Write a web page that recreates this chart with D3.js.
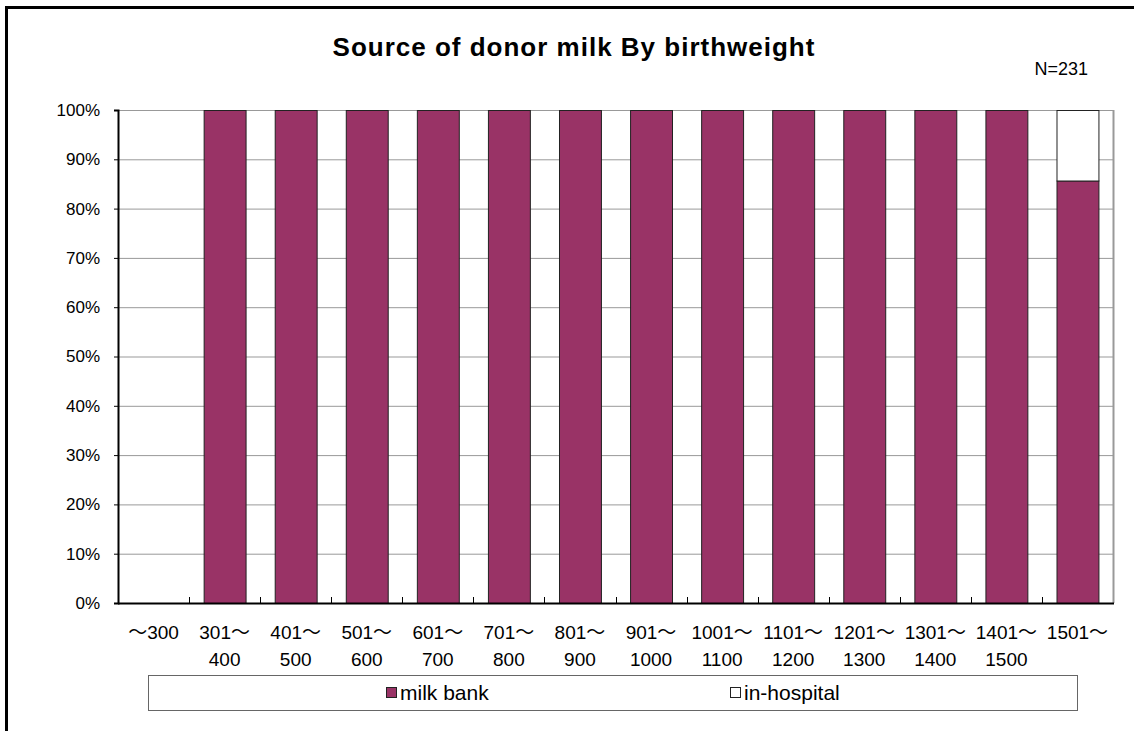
<!DOCTYPE html>
<html><head><meta charset="utf-8">
<script src="https://cdn.jsdelivr.net/npm/d3@7"></script>
<style>body{margin:0;background:#fff;}svg{display:block;}</style>
</head><body>
<svg id="c" width="1134" height="731"></svg>
<script>
const categoriesLine1 = ["～300","301～","401～","501～","601～","701～","801～","901～","1001～","1101～","1201～","1301～","1401～","1501～"];
const categoriesLine2 = ["","400","500","600","700","800","900","1000","1100","1200","1300","1400","1500",""];
const milkBank   = [0,100,100,100,100,100,100,100,100,100,100,100,100,85.7];
const inHospital = [0,0,0,0,0,0,0,0,0,0,0,0,0,14.3];
const yTicks = [0,10,20,30,40,50,60,70,80,90,100];
const seriesNames = ["milk bank","in-hospital"];
const seriesColors = ["#993366","#ffffff"];
const titleText = "Source of donor milk By birthweight";
const noteText = "N=231";

const font = "'Liberation Sans', 'Noto Sans CJK JP', Arial, sans-serif";
const svg = d3.select("#c");
// outer border
svg.append("rect").attr("x",6.5).attr("y",7.5).attr("width",1140).attr("height",740)
  .attr("fill","none").attr("stroke","#000").attr("stroke-width",3);

const L=118,R=1113,T=110,B=603;
const x = d3.scaleBand().domain(categoriesLine1.map((d,i)=>i)).range([L,R]).paddingInner(0.41).paddingOuter(0.205);
const xb = d3.scaleBand().domain(categoriesLine1.map((d,i)=>i)).range([L,R]);
const y = d3.scaleLinear().domain([0,100]).range([B,T]);

// gridlines
svg.append("g").selectAll("line").data(yTicks.filter(t=>t>0)).join("line")
  .attr("x1",L).attr("x2",R).attr("y1",d=>y(d)+0.5).attr("y2",d=>y(d)+0.5)
  .attr("stroke","#999").attr("stroke-width",1);
// right border
svg.append("line").attr("x1",R+0.5).attr("x2",R+0.5).attr("y1",T).attr("y2",B).attr("stroke","#999").attr("stroke-width",2);

// stacked bars
const stackData = categoriesLine1.map((c,i)=>({i, mb:milkBank[i], ih:inHospital[i]}));
const stack = d3.stack().keys(["mb","ih"])(stackData);
stack.forEach((layer,k)=>{
  svg.append("g").selectAll("rect").data(layer.filter(d=>d[1]-d[0]>0)).join("rect")
    .attr("x",d=>x(d.data.i)+0.5).attr("width",x.bandwidth())
    .attr("y",d=>y(d[1])+0.5).attr("height",d=>y(d[0])-y(d[1]))
    .attr("fill",seriesColors[k]).attr("stroke","#222").attr("stroke-width",1);
});

// axes
const yAxis = d3.axisLeft(y).tickValues(yTicks).tickFormat(d=>d+"%").tickSize(4).tickPadding(14);
const gy = svg.append("g").attr("transform",`translate(${L},0)`).call(yAxis);
gy.select(".domain").attr("stroke","#000").attr("stroke-width",2);
gy.selectAll(".tick line").attr("stroke","#000");
gy.selectAll("text").attr("font-family",font).attr("font-size",17).attr("fill","#000");

svg.append("line").attr("x1",L).attr("x2",R+1).attr("y1",B+0.5).attr("y2",B+0.5).attr("stroke","#000").attr("stroke-width",2);
// x ticks (inside, at band boundaries)
svg.append("g").selectAll("line").data(d3.range(1,categoriesLine1.length)).join("line")
  .attr("x1",i=>Math.round(xb(i))+0.5).attr("x2",i=>Math.round(xb(i))+0.5)
  .attr("y1",B).attr("y2",B-6).attr("stroke","#000");

const xl = svg.append("g");
categoriesLine1.forEach((c,i)=>{
  const cx = xb(i)+xb.bandwidth()/2;
  xl.append("text").attr("x",cx).attr("y",639).attr("text-anchor","middle")
    .attr("font-family",font).attr("font-size",19).text(c);
  if(categoriesLine2[i]) xl.append("text").attr("x",cx).attr("y",666).attr("text-anchor","middle")
    .attr("font-family",font).attr("font-size",19).text(categoriesLine2[i]);
});

// title
svg.append("text").attr("x",574).attr("y",56).attr("text-anchor","middle")
  .attr("font-family",font).attr("font-size",26).attr("font-weight","bold")
  .attr("letter-spacing","1px").text(titleText);
svg.append("text").attr("x",1088).attr("y",75).attr("text-anchor","end")
  .attr("font-family",font).attr("font-size",18).text(noteText);

// legend
svg.append("rect").attr("x",148.5).attr("y",675.5).attr("width",929).attr("height",35)
  .attr("fill","#fff").attr("stroke","#666").attr("stroke-width",1);
const legX = [386,730];
seriesNames.forEach((s,k)=>{
  svg.append("rect").attr("x",legX[k]+0.5).attr("y",687.5).attr("width",10).attr("height",10)
    .attr("fill",seriesColors[k]).attr("stroke","#222");
  svg.append("text").attr("x",legX[k]+14).attr("y",700).attr("font-family",font).attr("font-size",21).text(s);
});
</script>
</body></html>
